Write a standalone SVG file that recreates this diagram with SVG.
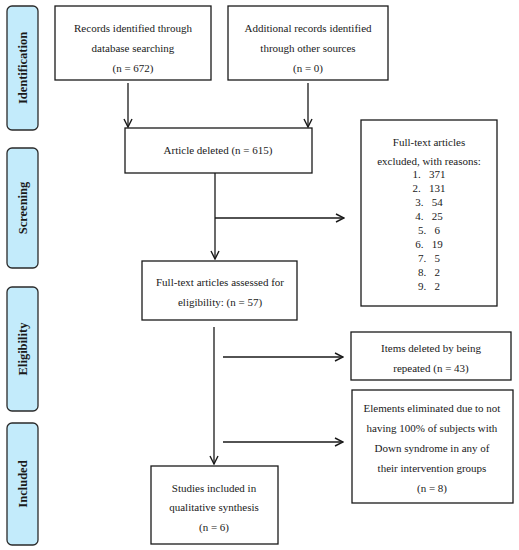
<svg xmlns="http://www.w3.org/2000/svg" width="519" height="550" viewBox="0 0 519 550">
<defs>
<style>
.tab{fill:#c3ebfb;stroke:#2a2a2a;stroke-width:1.3}
.box{fill:#fff;stroke:#1a1a1a;stroke-width:1.3}
.t{font-family:"Liberation Serif","DejaVu Serif",serif;font-size:11px;fill:#1a1a1a;text-anchor:middle}
.tl{font-family:"Liberation Serif","DejaVu Serif",serif;font-size:12.5px;font-weight:bold;fill:#1a1a1a;text-anchor:middle}
.c{fill:none;stroke:#1a1a1a;stroke-width:1.3}
</style>
<marker id="arr" viewBox="0 0 10 10" refX="9" refY="5" markerWidth="10" markerHeight="10" markerUnits="userSpaceOnUse" orient="auto">
<polyline points="1,1 9,5 1,9" fill="none" stroke="#1a1a1a" stroke-width="1.4"/>
</marker>
</defs>
<rect width="519" height="550" fill="#fff"/>
<g id="tab-identification">
<rect class="tab" x="7" y="6" width="31" height="124" rx="5"/>
<text class="tl" transform="translate(26.5,68) rotate(-90)">Identification</text>
</g>
<g id="tab-screening">
<rect class="tab" x="7" y="148" width="31" height="120" rx="5"/>
<text class="tl" transform="translate(26.5,208) rotate(-90)">Screening</text>
</g>
<g id="tab-eligibility">
<rect class="tab" x="7" y="287" width="31" height="124" rx="5"/>
<text class="tl" transform="translate(26.5,349) rotate(-90)">Eligibility</text>
</g>
<g id="tab-included">
<rect class="tab" x="7" y="423" width="31" height="122" rx="5"/>
<text class="tl" transform="translate(26.5,484) rotate(-90)">Included</text>
</g>
<g id="n-records">
<rect class="box" x="55" y="6" width="156" height="74"/>
<text class="t" x="133" y="32">Records identified through</text>
<text class="t" x="133" y="52">database searching</text>
<text class="t" x="133" y="72">(n = 672)</text>
</g>
<g id="n-additional">
<rect class="box" x="228" y="6" width="160" height="74"/>
<text class="t" x="308" y="32">Additional records identified</text>
<text class="t" x="308" y="52">through other sources</text>
<text class="t" x="308" y="72">(n = 0)</text>
</g>
<g id="n-deleted">
<rect class="box" x="125" y="128" width="187" height="45"/>
<text class="t" x="218" y="154">Article deleted (n = 615)</text>
</g>
<g id="n-excluded">
<rect class="box" x="361" y="120" width="136" height="186"/>
<text class="t" x="429" y="146">Full-text articles</text>
<text class="t" x="429" y="165">excluded, with reasons:</text>
<text class="t" x="429" y="178" xml:space="preserve">1.   371</text>
<text class="t" x="429" y="192" xml:space="preserve">2.   131</text>
<text class="t" x="429" y="206" xml:space="preserve">3.   54</text>
<text class="t" x="429" y="220" xml:space="preserve">4.   25</text>
<text class="t" x="429" y="234" xml:space="preserve">5.   6</text>
<text class="t" x="429" y="248" xml:space="preserve">6.   19</text>
<text class="t" x="429" y="262" xml:space="preserve">7.   5</text>
<text class="t" x="429" y="276" xml:space="preserve">8.   2</text>
<text class="t" x="429" y="290" xml:space="preserve">9.   2</text>
</g>
<g id="n-assessed">
<rect class="box" x="142" y="261" width="155" height="59"/>
<text class="t" x="220" y="286">Full-text articles assessed for</text>
<text class="t" x="220" y="306">eligibility: (n = 57)</text>
</g>
<g id="n-repeated">
<rect class="box" x="351" y="332" width="160" height="48"/>
<text class="t" x="431" y="352">Items deleted by being</text>
<text class="t" x="431" y="372">repeated (n = 43)</text>
</g>
<g id="n-eliminated">
<rect class="box" x="352" y="390" width="161" height="113"/>
<text class="t" x="432" y="412">Elements eliminated due to not</text>
<text class="t" x="432" y="432">having 100% of subjects with</text>
<text class="t" x="432" y="452">Down syndrome in any of</text>
<text class="t" x="432" y="472">their intervention groups</text>
<text class="t" x="432" y="492">(n = 8)</text>
</g>
<g id="n-studies">
<rect class="box" x="151" y="466" width="127" height="78"/>
<text class="t" x="214" y="492">Studies included in</text>
<text class="t" x="214" y="511">qualitative synthesis</text>
<text class="t" x="214" y="531">(n = 6)</text>
</g>
<g id="connectors">
<line class="c" x1="128" y1="83" x2="128" y2="127" marker-end="url(#arr)"/>
<line class="c" x1="308" y1="83" x2="308" y2="127" marker-end="url(#arr)"/>
<line class="c" x1="215" y1="173" x2="215" y2="259" marker-end="url(#arr)"/>
<line class="c" x1="215" y1="218" x2="344" y2="218" marker-end="url(#arr)"/>
<line class="c" x1="214" y1="327" x2="214" y2="464" marker-end="url(#arr)"/>
<line class="c" x1="223" y1="357" x2="343" y2="357" marker-end="url(#arr)"/>
<line class="c" x1="223" y1="442" x2="343" y2="442" marker-end="url(#arr)"/>
</g>
</svg>
